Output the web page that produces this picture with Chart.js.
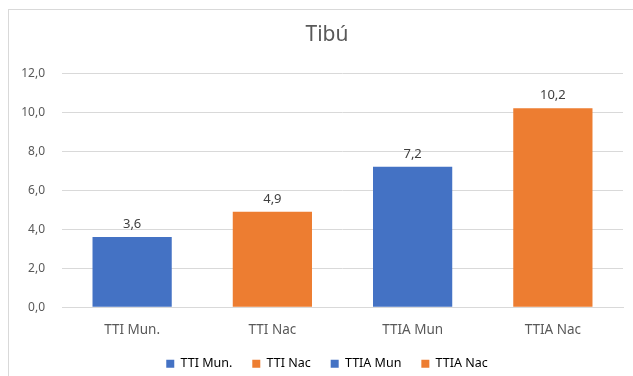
<!DOCTYPE html>
<html>
<head>
<meta charset="utf-8">
<title>Tibú</title>
<script src="https://cdn.jsdelivr.net/npm/chart.js@4.4.1/dist/chart.umd.min.js"></script>
<style>
html, body { margin: 0; padding: 0; background: #fff; overflow: hidden; }
.frame {
    position: absolute; left: 8px; top: 9px;
    width: 636px; height: 388px;
    border-left: 1px solid #d9d9d9; border-top: 1px solid #d9d9d9;
}
#tibu { display: block; }
</style>
</head>
<body>
<div class="frame"><canvas id="tibu" width="636" height="386"></canvas></div>
<script>
var categories = ["TTI Mun.", "TTI Nac", "TTIA Mun", "TTIA Nac"];
var values = [3.6, 4.9, 7.2, 10.2];
var yMin = 0, yMax = 12, yStep = 2;

var blue = "#4472c4", orange = "#ed7d31";
var barColors = [blue, orange, blue, orange];

function comma(v) {
    return Number(v).toFixed(1).replace(".", ",");
}

//Value labels above bars
var barValues = {
    id: "barValues",
    afterDatasetsDraw: function (chart) {
        var ctx = chart.ctx;
        var meta = chart.getDatasetMeta(0);
        ctx.save();
        ctx.font = "13px 'Noto Sans'";
        ctx.fillStyle = "#404040";
        ctx.textAlign = "center";
        ctx.textBaseline = "alphabetic";
        meta.data.forEach(function (bar, i) {
            ctx.fillText(comma(values[i]), bar.x, bar.y - 9);
        });
        ctx.restore();
    }
};

//Legend sits a bit closer to the category labels
var legendUp = {
    id: "legendUp",
    afterLayout: function (chart) {
        chart.legend.top -= 16;
        chart.legend.bottom -= 16;
    }
};

Chart.defaults.font.family = "'Noto Sans', sans-serif";
Chart.defaults.color = "#595959";

var ctx = document.getElementById("tibu").getContext("2d");
var chart = new Chart(ctx, {
    type: "bar",
    data: {
        labels: categories,
        datasets: [{
            data: values,
            backgroundColor: barColors,
            barPercentage: 0.565,
            categoryPercentage: 1
        }]
    },
    options: {
        responsive: false,
        animation: false,
        layout: { padding: 0 },
        plugins: {
            title: {
                display: true,
                text: "Tibú",
                color: "#595959",
                font: { size: 21, weight: "normal" },
                padding: { top: 12, bottom: 26 }
            },
            legend: {
                position: "bottom",
                labels: {
                    boxWidth: 8,
                    boxHeight: 8,
                    padding: 20,
                    font: { size: 12.5 },
                    color: "#595959",
                    generateLabels: function (chart) {
                        return categories.map(function (c, i) {
                            return {
                                text: c,
                                fillStyle: barColors[i],
                                strokeStyle: barColors[i],
                                lineWidth: 0,
                                index: i,
                                datasetIndex: 0
                            };
                        });
                    }
                },
                onClick: function () {}
            },
            tooltip: { enabled: false }
        },
        scales: {
            x: {
                grid: { display: false, drawTicks: false },
                border: { color: "#d9d9d9" },
                ticks: { padding: 15, font: { size: 13.5 }, color: "#595959" }
            },
            y: {
                min: yMin,
                max: yMax,
                afterFit: function (scale) { scale.width = 53; },
                grid: { color: "#d9d9d9", drawTicks: false },
                border: { display: false },
                ticks: {
                    stepSize: yStep,
                    padding: 17,
                    font: { size: 12 },
                    color: "#595959",
                    callback: function (v) { return comma(v); }
                }
            },
            // empty gutter on the right of the plot
            gutter: {
                type: "linear",
                position: "right",
                afterFit: function (scale) { scale.width = 22; },
                grid: { display: false, drawTicks: false },
                border: { display: false },
                ticks: { display: false }
            }
        }
    },
    plugins: [barValues, legendUp]
});
</script>
</body>
</html>
